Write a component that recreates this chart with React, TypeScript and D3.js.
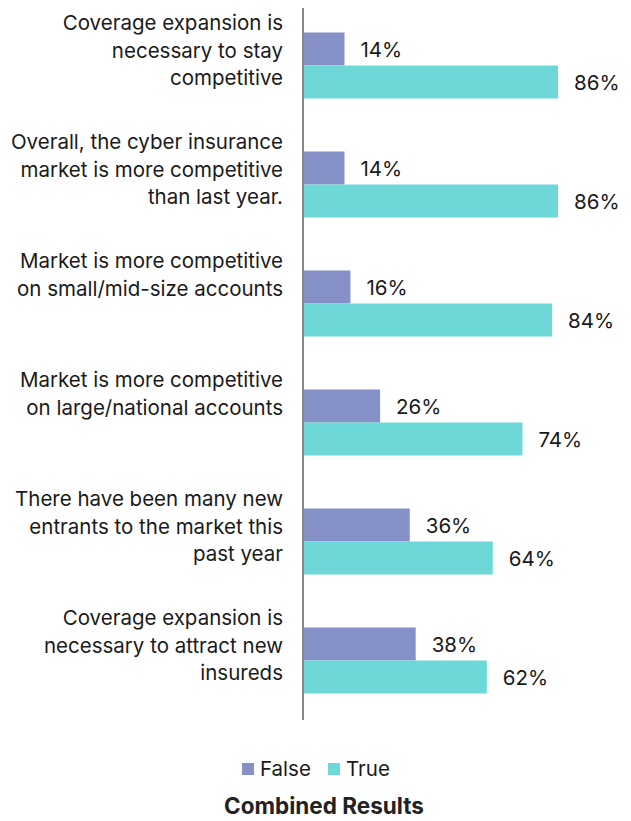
import React from "react";
import * as d3 from "d3";

const categories: string[][] = [
  ["Coverage expansion is", "necessary to stay", "competitive"],
  ["Overall, the cyber insurance", "market is more competitive", "than last year."],
  ["Market is more competitive", "on small/mid-size accounts"],
  ["Market is more competitive", "on large/national accounts"],
  ["There have been many new", "entrants to the market this", "past year"],
  ["Coverage expansion is", "necessary to attract new", "insureds"],
];
const falseValues = [14, 14, 16, 26, 36, 38];
const trueValues = [86, 86, 84, 74, 64, 62];
const seriesNames = ["False", "True"];
const colors = ["#8490C6", "#6ED8D8"];
const title = "Combined Results";

const W = 631;
const H = 821;
const FONT = "Inter, 'Noto Sans', sans-serif";
const FS = 20.5;

export default function App() {
  const x = d3.scaleLinear().domain([0, 100]).range([303, 599.5]);
  const y = d3
    .scaleBand<number>()
    .domain(categories.map((_, i) => i))
    .range([6, 720]);
  const barH = 33;
  const series = [falseValues, trueValues];
  return (
    <svg
      width={W}
      height={H}
      style={{ position: "absolute", left: 0, top: 0, background: "#fff" }}
      fontFamily={FONT}
    >
      {categories.map((lines, i) => {
        const b = y(i)!;
        const c = b + y.bandwidth() / 2;
        return (
          <g key={i}>
            {lines.map((ln, j) => (
              <text
                key={j}
                x={283}
                y={b + 24 + j * 27.5}
                textAnchor="end"
                fontSize={FS}
                fill="#1a1a1a"
              >
                {ln}
              </text>
            ))}
            {series.map((vals, s) => {
              const top = c - barH + s * barH;
              return (
                <g key={s}>
                  <rect
                    x={x(0)}
                    y={top}
                    width={x(vals[i]) - x(0)}
                    height={barH}
                    fill={colors[s]}
                  />
                  <text
                    x={x(vals[i]) + 16}
                    y={top + barH / 2 + 8}
                    fontSize={FS}
                    fill="#1a1a1a"
                  >
                    {vals[i]}%
                  </text>
                </g>
              );
            })}
          </g>
        );
      })}
      <line x1={303} x2={303} y1={8} y2={720} stroke="#888" strokeWidth={2} />
      <g>
        <rect x={242} y={763} width={12} height={12} fill={colors[0]} />
        <text x={260} y={776} fontSize={FS} fill="#1a1a1a">
          {seriesNames[0]}
        </text>
        <rect x={328} y={763} width={12} height={12} fill={colors[1]} />
        <text x={346} y={776} fontSize={FS} fill="#1a1a1a">
          {seriesNames[1]}
        </text>
      </g>
      <text
        x={324}
        y={814}
        textAnchor="middle"
        fontSize={22.5}
        fontWeight="bold"
        fill="#222"
      >
        {title}
      </text>
    </svg>
  );
}
